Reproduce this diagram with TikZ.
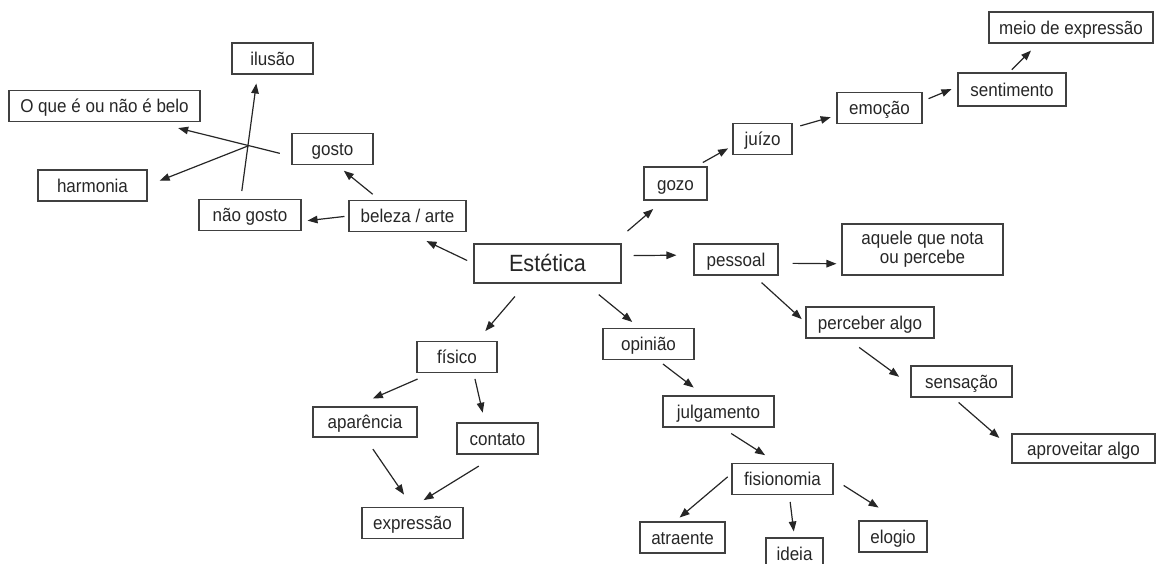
\documentclass[tikz,border=0pt]{standalone}
\usepackage{fontspec}
\setmainfont{Liberation Sans}[FakeStretch=0.92]
\usetikzlibrary{arrows.meta,calc}

\tikzset{
  box/.style={draw=black!75, line width=1.1pt, inner sep=0pt, minimum height=31pt,
    text=black!85, font=\fontsize{18.5}{19}\selectfont, align=center,
    text height=13.3pt, text depth=0pt},
  arr/.style={-{Triangle[length=10pt,width=7.5pt]}, line width=1.2pt, draw=black!85},
}

\begin{document}
\begin{tikzpicture}[x=1pt,y=-1pt]
    \useasboundingbox (0,0) rectangle (1158,564);

    % centro
    \node[box, minimum width=147pt, minimum height=39pt, font=\fontsize{23.5}{26}\selectfont,
      text height=16.8pt] (est) at (547.5,263.5) {Estética};

    % beleza / arte
    \node[box, minimum width=117pt] (beleza) at (407.5,216) {beleza / arte};
    \node[box, minimum width=81pt] (gosto) at (332.5,149) {gosto};
    \node[box, minimum width=102pt] (naogosto) at (250,215) {não gosto};
    \node[box, minimum width=81pt] (ilusao) at (272.5,58.5) {ilusão};
    \node[box, minimum width=191pt] (belo) at (104.5,106) {O que é ou não é belo};
    \node[box, minimum width=109pt] (harmonia) at (92.5,185.5) {harmonia};

    % gozo
    \node[box, minimum width=63pt, minimum height=33pt] (gozo) at (675.5,183.5) {gozo};
    \node[box, minimum width=59pt] (juizo) at (762.5,139) {juízo};
    \node[box, minimum width=85pt] (emocao) at (879.5,108) {emoção};
    \node[box, minimum width=108pt, minimum height=33pt] (sentimento) at (1012,89.5) {sentimento};
    \node[box, minimum width=164pt] (meio) at (1071,27.5) {meio de expressão};

    % pessoal
    \node[box, minimum width=84pt] (pessoal) at (736,259.5) {pessoal};
    \node[box, minimum width=161pt, minimum height=51pt, text height={}, text depth={}] (aquele) at (922.5,249.5) {aquele que nota\\ou percebe};
    \node[box, minimum width=128pt] (perceber) at (870,322.5) {perceber algo};
    \node[box, minimum width=101pt] (sensacao) at (961.5,381.5) {sensação};
    \node[box, minimum width=143pt, minimum height=29pt] (aproveitar) at (1083.5,448.5) {aproveitar algo};

    % opiniao
    \node[box, minimum width=91pt] (opiniao) at (648.5,344) {opinião};
    \node[box, minimum width=111pt] (julgamento) at (718.5,411.5) {julgamento};
    \node[box, minimum width=101pt] (fisionomia) at (782.5,479) {fisionomia};
    \node[box, minimum width=85pt] (atraente) at (682.5,537.5) {atraente};
    \node[box, minimum width=57pt] (ideia) at (794.5,553.5) {ideia};
    \node[box, minimum width=68pt] (elogio) at (893,536.5) {elogio};

    % fisico
    \node[box, minimum width=80pt] (fisico) at (457,357) {físico};
    \node[box, minimum width=104pt, minimum height=30pt] (aparencia) at (365,422) {aparência};
    \node[box, minimum width=81pt] (contato) at (497.5,438.5) {contato};
    \node[box, minimum width=101pt] (expressao) at (412.5,523) {expressão};

    \coordinate (cross) at ($(gosto.190)!0.31!(belo.-18.5)$);

    % setas
    \draw[arr, shorten <=7pt, shorten >=21pt] (est.west) -- (beleza.south);
    \draw[arr, shorten <=9pt, shorten >=9pt] (beleza.150) -- (gosto.-75);
    \draw[arr, shorten <=4pt, shorten >=6pt] (beleza.west) -- (naogosto.-7);
    \draw[arr, shorten <=12pt, shorten >=25pt] (gosto.190) -- (belo.-18.5);
    \draw[arr, shorten <=8pt, shorten >=9pt] (naogosto.120) -- (ilusao.-133);
    \draw[arr, shorten >=13pt] (cross) -- (harmonia.east);

    \draw[arr, shorten <=19pt, shorten >=13pt] (est.17) -- (gozo.-126);
    \draw[arr, shorten <=8pt, shorten >=5pt] (gozo.40) -- (juizo.-167);
    \draw[arr, shorten <=8pt, shorten >=6pt] (juizo.20) -- (emocao.-170);
    \draw[arr, shorten <=6.5pt, shorten >=6.5pt] (emocao.9) -- (sentimento.177);
    \draw[arr, shorten <=4pt, shorten >=10pt] (sentimento.100) -- (meio.-154);

    \draw[arr, shorten <=12pt, shorten >=17pt] (est.6.6) -- (pessoal.174);
    \draw[arr, shorten <=14pt, shorten >=5pt] (pessoal.-5) -- (aquele.-170.5);
    \draw[arr, shorten <=10.5pt, shorten >=5pt] (pessoal.-42.5) -- (perceber.west);
    \draw[arr, shorten <=15pt, shorten >=14pt] (perceber.-145) -- (sensacao.-176);
    \draw[arr, shorten <=7.5pt, shorten >=16pt] (sensacao.-118) -- (aproveitar.west);

    \draw[arr, shorten <=17.5pt, shorten >=9.5pt] (est.-28.6) -- (opiniao.119);
    \draw[arr, shorten <=6.5pt, shorten >=13pt] (opiniao.-60) -- (julgamento.132.5);
    \draw[arr, shorten <=11pt, shorten >=14.5pt] (julgamento.-78) -- (fisionomia.108);
    \draw[arr, shorten <=5pt, shorten >=6pt] (fisionomia.174) -- (atraente.115);
    \draw[arr, shorten <=7pt, shorten >=6pt] (fisionomia.-67) -- (ideia.north);
    \draw[arr, shorten <=12pt, shorten >=24pt] (fisionomia.east) -- (elogio.70);

    \draw[arr, shorten <=17pt, shorten >=13pt] (est.-137.6) -- (fisico.39.5);
    \draw[arr, shorten <=15pt, shorten >=20pt] (fisico.-148) -- (aparencia.124);
    \draw[arr, shorten <=6pt, shorten >=10pt] (fisico.-44) -- (contato.128);
    \draw[arr, shorten <=14pt, shorten >=15pt] (aparencia.south) -- (expressao.north);
    \draw[arr, shorten <=22pt, shorten >=13pt] (contato.south) -- (expressao.north);
\end{tikzpicture}
\end{document}
